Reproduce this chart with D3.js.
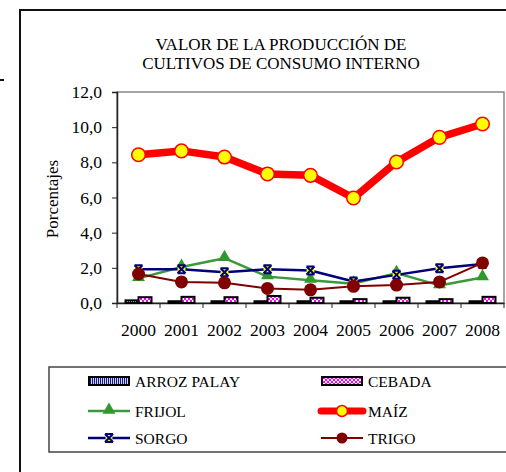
<!DOCTYPE html>
<html><head><meta charset="utf-8">
<script src="https://cdn.jsdelivr.net/npm/d3@7"></script>
<style>body{margin:0;background:#fff}svg{display:block}</style>
</head><body>
<svg id="c" width="506" height="472"></svg>
<script>
const years = ["2000","2001","2002","2003","2004","2005","2006","2007","2008"];
const arroz  = [0.15,0.1,0.1,0.1,0.1,0.1,0.1,0.1,0.1];
const cebada = [0.33,0.35,0.33,0.4,0.3,0.22,0.3,0.22,0.35];
const frijol = [1.4,2.05,2.55,1.5,1.3,1.1,1.7,1.0,1.45];
const maiz   = [8.43,8.65,8.3,7.34,7.26,5.97,8.02,9.42,10.18];
const sorgo  = [1.92,1.92,1.75,1.92,1.85,1.22,1.6,1.98,2.22];
const trigo  = [1.65,1.2,1.15,0.83,0.75,0.95,1.02,1.2,2.28];
const yTicks = [0,2,4,6,8,10,12];
const legendNames = ["ARROZ PALAY","CEBADA","FRIJOL","MAÍZ","SORGO","TRIGO"];

const svg = d3.select("#c");
function T(sel, size){ return sel.attr("font-size",size).style("font-family",'"Times New Roman"'); }

const defs = svg.append("defs");
const pA = defs.append("pattern").attr("id","pArroz").attr("width",2).attr("height",4).attr("patternUnits","userSpaceOnUse");
pA.append("rect").attr("width",2).attr("height",4).attr("fill","#ccd0ff");
pA.append("rect").attr("width",1).attr("height",4).attr("fill","#1a1a80");
const pC = defs.append("pattern").attr("id","pCeb").attr("width",4).attr("height",4).attr("patternUnits","userSpaceOnUse");
pC.append("rect").attr("width",4).attr("height",4).attr("fill","#ff00ff");
pC.append("rect").attr("width",2).attr("height",2).attr("fill","#fff");
pC.append("rect").attr("x",2).attr("y",2).attr("width",2).attr("height",2).attr("fill","#fff");

// outer frame
svg.append("rect").attr("x",20).attr("y",10).attr("width",520).attr("height",500).attr("fill","none").attr("stroke","#111").attr("stroke-width",2);
svg.append("line").attr("x1",0).attr("x2",4).attr("y1",80).attr("y2",80).attr("stroke","#111").attr("stroke-width",2);

// title
T(svg.append("text").attr("x",281).attr("y",50).attr("text-anchor","middle"),17).text("VALOR DE LA PRODUCCIÓN DE");
T(svg.append("text").attr("x",281).attr("y",68.5).attr("text-anchor","middle"),17).text("CULTIVOS DE CONSUMO INTERNO");

const L=117, R=504, Tp=92, B=303;
const x = d3.scaleBand().domain(years).range([L,R]);
const y = d3.scaleLinear().domain([0,12]).range([B,Tp]);

// plot border
svg.append("rect").attr("x",L).attr("y",Tp).attr("width",R-L).attr("height",B-Tp).attr("fill","none").attr("stroke","#888").attr("stroke-width",1.5);

// y axis
const ya = svg.append("g").attr("transform",`translate(${L},0)`).call(d3.axisLeft(y).tickValues(yTicks).tickSize(5).tickPadding(10).tickFormat(d=>d3.format(".1f")(d).replace(".",",")));
ya.attr("font-family",null).attr("font-size",null);
ya.select(".domain").attr("stroke","#222").attr("stroke-width",1.5);
ya.selectAll(".tick line").attr("stroke","#222");
T(ya.selectAll("text"),17.5).attr("fill","#000");

// x axis
const xa = svg.append("g").attr("transform",`translate(0,${B})`).call(d3.axisBottom(x).tickSize(0).tickPadding(21));
xa.attr("font-family",null).attr("font-size",null);
xa.select(".domain").attr("stroke","#222").attr("stroke-width",1.5);
T(xa.selectAll("text"),17.5).attr("fill","#000");
const bounds = years.slice(1).map(d=>x(d)).concat([L,R]);
svg.append("g").selectAll("line").data(bounds).join("line").attr("x1",d=>d).attr("x2",d=>d).attr("y1",B).attr("y2",B+5).attr("stroke","#222");

T(svg.append("text").attr("transform","translate(57.5,199) rotate(-90)").attr("text-anchor","middle"),17).text("Porcentajes");

// bars
const bw = 13;
svg.append("g").selectAll("rect").data(arroz).join("rect")
  .attr("x",(d,i)=>x(years[i])+x.bandwidth()/2-bw).attr("y",d=>y(d)).attr("width",bw).attr("height",d=>B-y(d))
  .attr("fill","url(#pArroz)").attr("stroke","#000").attr("stroke-width",2);
svg.append("g").selectAll("rect").data(cebada).join("rect")
  .attr("x",(d,i)=>x(years[i])+x.bandwidth()/2).attr("y",d=>y(d)).attr("width",bw).attr("height",d=>B-y(d))
  .attr("fill","url(#pCeb)").attr("stroke","#000").attr("stroke-width",2);

const cx = i=>x(years[i])+x.bandwidth()/2;
const line = d3.line().x((d,i)=>cx(i)).y(d=>y(d));

function drawLine(data,color,w){
  svg.append("path").datum(data).attr("d",line).attr("fill","none").attr("stroke",color).attr("stroke-width",w).attr("stroke-linejoin","round");
}
const tri = d3.symbol().type(d3.symbolTriangle).size(72);
const starD = "M-4,-4L4,4M-4,4L4,-4M-4,-4L4,-4M-4,4L4,4";

drawLine(frijol,"#3a9a3a",2.5);
svg.append("g").selectAll("path").data(frijol).join("path").attr("d",tri()).attr("transform",(d,i)=>`translate(${cx(i)},${y(d)-1})`).attr("fill","#2e9a2e");

drawLine(sorgo,"#00007a",2.5);
const sg = svg.append("g").selectAll("g").data(sorgo).join("g").attr("transform",(d,i)=>`translate(${cx(i)},${y(d)})`);
sg.append("circle").attr("r",4).attr("fill","#ffff00");
sg.append("path").attr("d",starD).attr("stroke","#00007a").attr("stroke-width",2);

drawLine(trigo,"#800000",2);
svg.append("g").selectAll("circle").data(trigo).join("circle").attr("cx",(d,i)=>cx(i)).attr("cy",d=>y(d)).attr("r",6.5).attr("fill","#800000");

drawLine(maiz,"#ff0000",7.5);
svg.append("g").selectAll("circle").data(maiz).join("circle").attr("cx",(d,i)=>cx(i)).attr("cy",d=>y(d)).attr("r",6.8).attr("fill","#ffff00").attr("stroke","#ff0000").attr("stroke-width",1.5);

// legend
svg.append("rect").attr("x",49).attr("y",367).attr("width",470).attr("height",85).attr("fill","none").attr("stroke","#444").attr("stroke-width",1.5);
const rowsY = [381,411,438], colX = [88,321], textY = [386.5,416.5,443.5];
legendNames.forEach((n,k)=>{
  const r = Math.floor(k/2);
  const gx = colX[k%2], gy = rowsY[r];
  const g = svg.append("g").attr("transform",`translate(${gx},${gy})`);
  if(k===0){ g.append("rect").attr("x",1).attr("y",-4).attr("width",40).attr("height",8).attr("fill","url(#pArroz)").attr("stroke","#000").attr("stroke-width",2); }
  if(k===1){ g.append("rect").attr("x",1).attr("y",-4).attr("width",40).attr("height",8).attr("fill","url(#pCeb)").attr("stroke","#000").attr("stroke-width",2); }
  if(k===2){ g.append("line").attr("x2",42).attr("stroke","#3a9a3a").attr("stroke-width",2.5); g.append("path").attr("d",tri()).attr("transform","translate(21,-1)").attr("fill","#2e9a2e"); }
  if(k===3){ g.append("line").attr("x2",42).attr("stroke","#ff0000").attr("stroke-width",7).attr("stroke-linecap","round"); g.append("circle").attr("cx",21).attr("r",5.5).attr("fill","#ffff00").attr("stroke","#ff0000").attr("stroke-width",1.5); }
  if(k===4){ g.append("line").attr("x2",42).attr("stroke","#00007a").attr("stroke-width",2.5); g.append("circle").attr("cx",21).attr("r",3.5).attr("fill","#ffff00"); g.append("path").attr("transform","translate(21,0)").attr("d",starD).attr("stroke","#00007a").attr("stroke-width",2); }
  if(k===5){ g.append("line").attr("x2",42).attr("stroke","#800000").attr("stroke-width",2); g.append("circle").attr("cx",21).attr("r",5.5).attr("fill","#800000"); }
  T(svg.append("text").attr("x",gx+47).attr("y",textY[r]),15.5).text(n);
});
</script>
</body></html>
